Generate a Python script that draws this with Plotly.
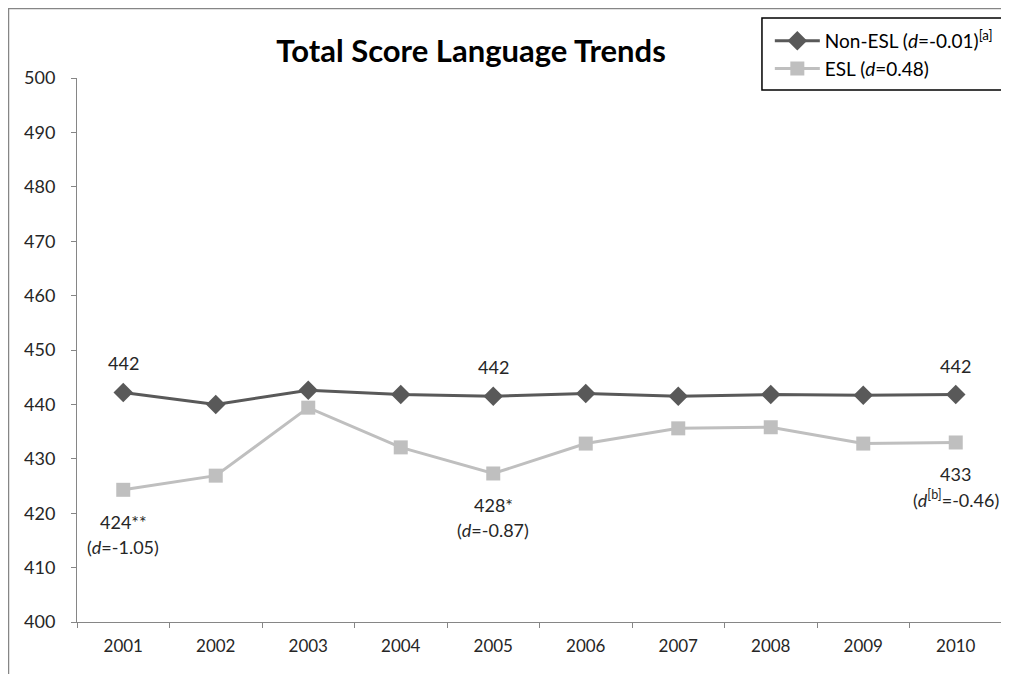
import plotly.graph_objects as go

# data
years = ["2001", "2002", "2003", "2004", "2005", "2006", "2007", "2008", "2009", "2010"]
non_esl = [442.2, 440.0, 442.6, 441.8, 441.5, 442.0, 441.5, 441.8, 441.7, 441.8]
esl = [424.3, 426.9, 439.4, 432.1, 427.3, 432.8, 435.6, 435.8, 432.8, 433.0]
y_ticks = list(range(400, 501, 10))

# point labels
top_labels = [("2001", "442"), ("2005", "442"), ("2010", "442")]
bottom_labels = [
    ("2001", ["424**", "(<i>d</i>=-1.05)"]),
    ("2005", ["428*", "(<i>d</i>=-0.87)"]),
    ("2010", ["433", "(<i>d</i><sup>[b]</sup>=-0.46)"]),
]

FONT = "Lato"
axis_grey = "#868686"
dark = "#595959"
light = "#bfbfbf"
txt_col = "#262626"

fig = go.Figure()

fig.add_trace(go.Scatter(
    x=years, y=non_esl,
    name="Non-ESL (<i>d</i>=-0.01)<sup>[a]</sup>",
    mode="lines+markers",
    line=dict(color=dark, width=3),
    marker=dict(symbol="diamond", size=15, color=dark),
))

fig.add_trace(go.Scatter(
    x=years, y=esl,
    name="ESL (<i>d</i>=0.48)",
    mode="lines+markers",
    line=dict(color=light, width=3),
    marker=dict(symbol="square", size=14, color=light),
))

# annotations on a category axis need the index, not the label
for yr, txt in top_labels:
    i = years.index(yr)
    fig.add_annotation(x=i, y=non_esl[i], text=txt, showarrow=False,
                       yshift=29, font=dict(size=18, color=txt_col, family=FONT))

for yr, lines in bottom_labels:
    i = years.index(yr)
    for k, txt in enumerate(lines):
        fig.add_annotation(x=i, y=esl[i], text=txt, showarrow=False,
                           yshift=-32 - 25 * k,
                           font=dict(size=18, color=txt_col, family=FONT))

# outer chart-area border (left and top visible)
fig.add_shape(type="line", xref="paper", yref="paper",
              x0=-0.0746, x1=-0.0746, y0=1.1287, y1=-0.2,
              line=dict(color=axis_grey, width=2.5))
fig.add_shape(type="line", xref="paper", yref="paper",
              x0=-0.0746, x1=1.05, y0=1.1287, y1=1.1287,
              line=dict(color=axis_grey, width=2.5))

# legend box
fig.add_shape(type="rect", xref="paper", yref="paper",
              x0=0.7405, x1=1.05, y0=1.1103, y1=0.978,
              line=dict(color="black", width=1.5), fillcolor="white", layer="below")

fig.update_layout(
    width=1001, height=666,
    margin=dict(l=69, r=7, t=70, b=52, autoexpand=False),
    paper_bgcolor="white", plot_bgcolor="white",
    font=dict(family=FONT, size=16, color=txt_col),
    title=dict(text="<b>Total Score Language Trends</b>", x=0.4626, xanchor="center",
               y=0.935, yanchor="middle", font=dict(size=31, color="black", family=FONT)),
    showlegend=True,
    legend=dict(x=0.749, xanchor="left", y=1.103, yanchor="top",
                bgcolor="rgba(0,0,0,0)", borderwidth=0, itemwidth=45,
                font=dict(size=19, color="black", family=FONT),
                tracegroupgap=0),
    xaxis=dict(
        type="category", range=[-0.5, 9.5],
        showline=True, linecolor=axis_grey, linewidth=1,
        ticks="outside", tickson="boundaries", ticklen=5, tickcolor=axis_grey,
        showgrid=False, zeroline=False, ticklabelstandoff=9,
        tickfont=dict(size=17, color=txt_col),
    ),
    yaxis=dict(
        range=[400, 500], tickvals=y_ticks,
        showline=True, linecolor=axis_grey, linewidth=1,
        ticks="outside", ticklen=5, tickcolor=axis_grey,
        showgrid=False, zeroline=False, ticklabelstandoff=12,
        tickfont=dict(size=18, color=txt_col),
    ),
)

fig.write_html("out.html")
